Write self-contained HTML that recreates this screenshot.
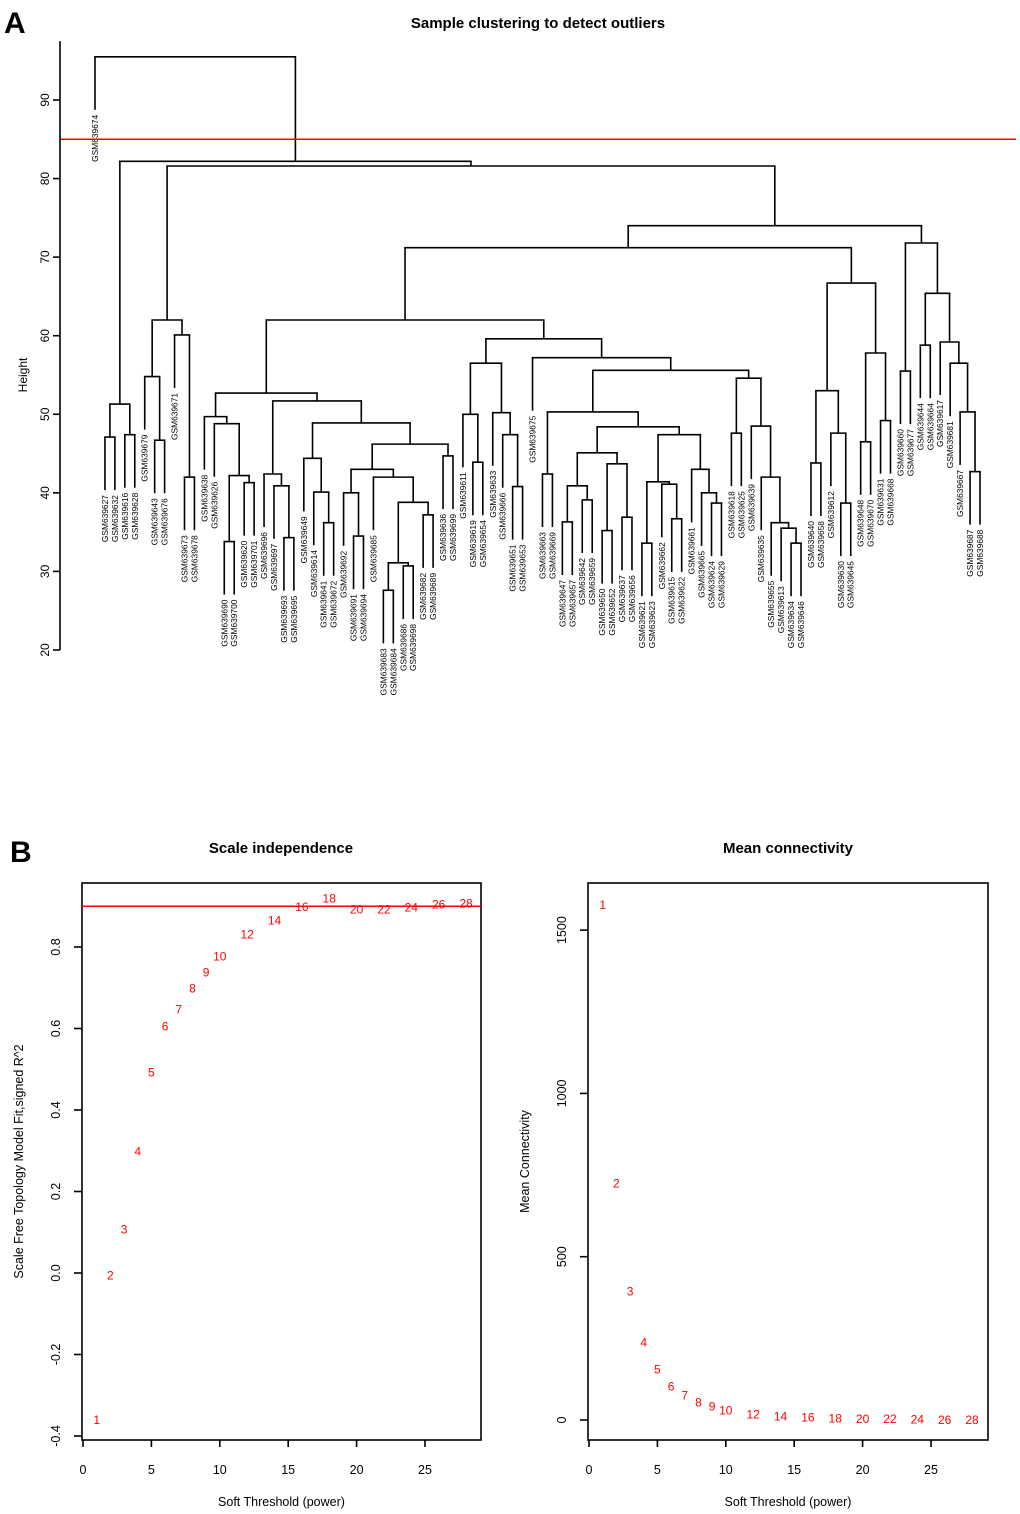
<!DOCTYPE html>
<html><head><meta charset="utf-8"><style>
html,body{margin:0;padding:0;background:#fff;}
svg{display:block;font-family:"Liberation Sans",Arial,sans-serif;}
</style></head><body>
<svg id="fig" width="1020" height="1514" viewBox="0 0 1020 1514" xmlns="http://www.w3.org/2000/svg">
<text x="4" y="33" font-size="30" font-weight="bold">A</text>
<text x="538" y="28" font-size="15" font-weight="bold" text-anchor="middle">Sample clustering to detect outliers</text>
<text transform="translate(27,375) rotate(-90)" font-size="12" text-anchor="middle">Height</text>
<g id="dendro"></g>
<g id="dendroAxis"></g>
<text x="10" y="862" font-size="30" font-weight="bold">B</text>
<text x="281" y="853" font-size="15" font-weight="bold" text-anchor="middle">Scale independence</text>
<text x="788" y="853" font-size="15" font-weight="bold" text-anchor="middle">Mean connectivity</text>
<g id="p1"></g>
<g id="p2"></g>
</svg>
<script>
// ---- Dendrogram data: [left, right, mergeHeight]; leaves are sample IDs
const cutHeight = 85;
const heightTicks = [20,30,40,50,60,70,80,90];
const tree = ["GSM639674", [
 [["GSM639627","GSM639632",47.1],["GSM639616","GSM639628",47.4],51.3],
 [
  [["GSM639679",["GSM639643","GSM639676",46.7],54.8],["GSM639671",["GSM639673","GSM639678",42.0],60.1],62.0],
  [
   [
    [
     [
      ["GSM639638",["GSM639626",[["GSM639690","GSM639700",33.8],["GSM639620","GSM639701",41.3],42.2],48.8],49.7],
      [
       ["GSM639696",["GSM639697",["GSM639693","GSM639695",34.3],40.9],42.4],
       [
        ["GSM639649",["GSM639614",["GSM639641","GSM639672",36.2],40.1],44.4],
        [
         [
          ["GSM639692",["GSM639691","GSM639694",34.5],40.0],
          ["GSM639685",[[["GSM639683","GSM639684",27.6],["GSM639686","GSM639698",30.7],31.1],["GSM639682","GSM639689",37.2],38.8],42.0],
         43.0],
         ["GSM639636","GSM639699",44.7],
        46.2],
       48.9],
      51.7],
     52.7],
     [
      [["GSM639611",["GSM639619","GSM639654",43.9],50.0],["GSM639633",["GSM639666",["GSM639651","GSM639653",40.8],47.4],50.2],56.5],
      ["GSM639675",[
        [["GSM639663","GSM639669",42.4],
         [
          [[["GSM639647","GSM639657",36.3],["GSM639642","GSM639659",39.1],40.9],[["GSM639650","GSM639652",35.2],["GSM639637","GSM639656",36.9],43.7],45.1],
          [[["GSM639621","GSM639623",33.6],["GSM639662",["GSM639615","GSM639622",36.7],41.1],41.4],["GSM639661",["GSM639665",["GSM639624","GSM639629",38.7],40.0],43.0],47.4],
         48.4],
        50.3],
        [["GSM639618","GSM639625",47.6],["GSM639639",["GSM639635",["GSM639655",["GSM639613",["GSM639634","GSM639646",33.6],35.5],36.2],42.0],48.5],54.6],
       55.6],57.2],
     59.6],
    62.0],
    [
     [["GSM639640","GSM639658",43.8],["GSM639612",["GSM639630","GSM639645",38.7],47.6],53.0],
     [["GSM639648","GSM639670",46.5],["GSM639631","GSM639668",49.2],57.8],
    66.7],
   71.2],
   [["GSM639660","GSM639677",55.5],[["GSM639644","GSM639664",58.8],["GSM639617",["GSM639681",["GSM639667",["GSM639687","GSM639688",42.7],50.3],56.5],59.2],65.4],71.8],
  74.0],
 81.6],
82.2],
95.5];

// ---- Soft threshold data
const powers = [1,2,3,4,5,6,7,8,9,10,12,14,16,18,20,22,24,26,28];
const sftFit = [-0.36,-0.005,0.108,0.30,0.493,0.606,0.648,0.70,0.739,0.778,0.832,0.866,0.90,0.92,0.893,0.893,0.898,0.905,0.908];
const meanConn = [1578,725,395,239,156,104,76,55,43,31,18,12,9,6,5,4,3,2,2];
const r2Cut = 0.9;
const xTicks = [0,5,10,15,20,25];
const r2Ticks = [-0.4,-0.2,0.0,0.2,0.4,0.6,0.8];
const r2TickLabels = ["-0.4","-0.2","0.0","0.2","0.4","0.6","0.8"];
const connTicks = [0,500,1000,1500];

const NS = "http://www.w3.org/2000/svg";
const SW = 1.6;
function mk(parent, tag, attrs){const e=document.createElementNS(NS,tag);for(const k in attrs)e.setAttribute(k,attrs[k]);parent.appendChild(e);return e;}

// ---- Dendrogram
(function(){
  const g = document.getElementById('dendro');
  const ax = document.getElementById('dendroAxis');
  const yS = h => 100 + (90 - h) * 7.857;
  const leaves = [];
  (function collect(n){ if (typeof n === 'string') leaves.push(n); else { collect(n[0]); collect(n[1]); } })(tree);
  const x0 = 95, x1 = 980;
  const step = (x1 - x0) / (leaves.length - 1);
  const hang = 6.75;
  let idx = 0;
  function draw(n, parentH){
    if (typeof n === 'string'){
      const x = x0 + step * (idx++);
      const yTop = yS(parentH), yBot = yS(parentH - hang);
      const l = mk(g,'line',{x1:x,y1:yTop,x2:x,y2:yBot,stroke:'#000','stroke-width':SW});
      
      
      const t = mk(g,'text',{transform:`translate(${x+3},${yBot+5}) rotate(-90)`,'font-size':8.4,'text-anchor':'end',fill:'#000'});
      t.textContent = n;
      
      
      return {x, h: parentH};
    }
    const a = draw(n[0], n[2]), b = draw(n[1], n[2]);
    const y = yS(n[2]);
    const p = mk(g,'path',{d:`M${a.x},${y} L${b.x},${y}`,fill:'none',stroke:'#000','stroke-width':SW,'stroke-linecap':'square'});
    if(a.node) mk(g,'line',{x1:a.x,y1:y,x2:a.x,y2:yS(a.h),stroke:'#000','stroke-width':SW});
    if(b.node) mk(g,'line',{x1:b.x,y1:y,x2:b.x,y2:yS(b.h),stroke:'#000','stroke-width':SW});
    
    
    return {x:(a.x+b.x)/2, h:n[2], node:true};
  }
  draw(tree, tree[2]);
  mk(ax,'line',{x1:60,y1:yS(97.5),x2:60,y2:yS(20),stroke:'#000','stroke-width':SW});
  heightTicks.forEach(v=>{
    const y=yS(v);
    mk(ax,'line',{x1:53,y1:y,x2:60,y2:y,stroke:'#000','stroke-width':SW});
    const t=mk(ax,'text',{transform:`translate(49,${y}) rotate(-90)`,'font-size':12,'text-anchor':'middle'});
    t.textContent=v;
    
    
  });
  const cut = mk(g,'line',{x1:60,y1:yS(cutHeight),x2:1016,y2:yS(cutHeight),stroke:'#ff0000','stroke-width':1.5});
  
  
})();

// ---- Scatter panels
function panel(id, L, R, yScale, yT, yTL, yVals, ylabel, cutVal){
  const g = document.getElementById(id);
  const T=883, B=1440;
  const xS = v => L + 1 + v * 13.68;
  mk(g,'rect',{x:L,y:T,width:R-L,height:B-T,fill:'none',stroke:'#000','stroke-width':SW});
  xTicks.forEach(v=>{
    const x=xS(v);
    mk(g,'line',{x1:x,y1:B,x2:x,y2:B+7,stroke:'#000','stroke-width':SW});
    const t=mk(g,'text',{x:x,y:B+34,'font-size':12.5,'text-anchor':'middle'});
    t.textContent=v;
    
    
  });
  yT.forEach((v,i)=>{
    const y=yScale(v);
    mk(g,'line',{x1:L-8,y1:y,x2:L,y2:y,stroke:'#000','stroke-width':SW});
    const t=mk(g,'text',{transform:`translate(${L-22},${y}) rotate(-90)`,'font-size':12.5,'text-anchor':'middle'});
    t.textContent=yTL[i];
    
    
  });
  const xl=mk(g,'text',{x:(L+R)/2,y:1506,'font-size':12.5,'text-anchor':'middle'});
  xl.textContent='Soft Threshold (power)';
  
  
  const yl=mk(g,'text',{transform:`translate(${L-59},${(T+B)/2}) rotate(-90)`,'font-size':12.5,'text-anchor':'middle'});
  yl.textContent=ylabel;
  
  
  if(cutVal!==null){
    const c=mk(g,'line',{x1:L,y1:yScale(cutVal),x2:R,y2:yScale(cutVal),stroke:'#ff0000','stroke-width':1.5});
    
    
  }
  powers.forEach((p,i)=>{
    const t=mk(g,'text',{x:xS(p),y:yScale(yVals[i])+4.5,'font-size':12,'text-anchor':'middle',fill:'#ff0000'});
    t.textContent=p;
    
    
  });
}
panel('p1',82,481,v=>1273-v*407.5,r2Ticks,r2TickLabels,sftFit,'Scale Free Topology Model Fit,signed R^2',r2Cut);
panel('p2',588,988,v=>1420-v*0.3266,connTicks,connTicks.map(String),meanConn,'Mean Connectivity',null);
</script>
</body></html>
